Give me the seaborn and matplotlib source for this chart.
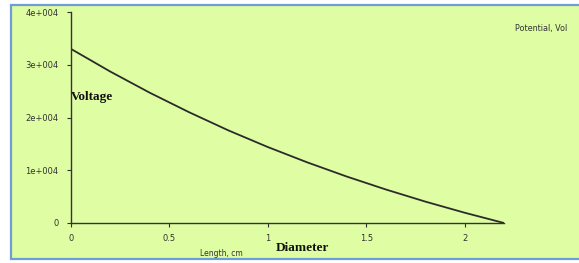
import matplotlib
matplotlib.use("Agg")
import matplotlib.pyplot as plt
from matplotlib.patches import Rectangle
from matplotlib.ticker import FuncFormatter
import pandas as pd
import seaborn as sns

# values
length_cm = [0.0, 0.2, 0.4, 0.6, 0.8, 1.0, 1.2, 1.4, 1.6, 1.8, 2.0, 2.2]
potential_v = [33000, 28700, 24700, 21000, 17550, 14400,
               11500, 8820, 6350, 4060, 1950, 0]
x_ticks = [0, 0.5, 1, 1.5, 2]
y_ticks = [0, 10000, 20000, 30000, 40000]

df = pd.DataFrame({"Length, cm": length_cm, "Potential, Voltage": potential_v})

sns.set_theme(style="ticks")
plt.rcParams["font.family"] = ["DejaVu Sans"]

bg = "#dffda3"
fig = plt.figure(figsize=(5.79, 2.63), dpi=100, facecolor="white")

# panel background with blue frame, on its own axes behind the plot
back = fig.add_axes([0, 0, 1, 1], zorder=-1)
back.set_axis_off()
back.set_xlim(0, 579)
back.set_ylim(263, 0)
back.add_patch(Rectangle((11, 5), 600, 254, facecolor=bg,
                         edgecolor="#6f9dd6", linewidth=1.6))

ax = fig.add_axes([71 / 579, 40 / 263, 433 / 579, 211 / 263], zorder=1)
ax.set_facecolor("none")
sns.lineplot(data=df, x="Length, cm", y="Potential, Voltage", ax=ax,
             color="#2b2b2b", linewidth=1.3)

ax.set_xlim(0, 2.2)
ax.set_ylim(0, 40000)
ax.set_xticks(x_ticks)
ax.set_yticks(y_ticks)
ax.xaxis.set_major_formatter(FuncFormatter(lambda v, p: f"{v:g}"))
ax.yaxis.set_major_formatter(
    FuncFormatter(lambda v, p: "0" if v == 0 else f"{int(v / 10000)}e+004"))
ax.tick_params(labelsize=6, colors="#333333", length=3, width=0.8, pad=6)
ax.tick_params(axis="x", pad=5)
for side in ["top", "right"]:
    ax.spines[side].set_visible(False)
for side in ["left", "bottom"]:
    ax.spines[side].set_color("#333333")
    ax.spines[side].set_linewidth(1.0)
ax.set_xlabel("")
ax.set_ylabel("")

# labels placed like the original
fig.text(71 / 579, 1 - 97 / 263, "Voltage", family="Liberation Serif",
         weight="bold", fontsize=9.5, va="center", ha="left", color="#111111",
         zorder=3)
fig.text(302 / 579, 1 - 248 / 263, "Diameter", family="Liberation Serif",
         weight="bold", fontsize=9.5, va="center", ha="center", color="#111111")
fig.text(200 / 579, 1 - 253 / 263, "Length, cm", fontsize=5.5,
         va="center", ha="left", color="#333333")
fig.text(515 / 579, 1 - 29 / 263, "Potential, Vol", fontsize=5.8,
         va="center", ha="left", color="#333333")

fig.savefig("out.png", dpi=100, facecolor="white")
